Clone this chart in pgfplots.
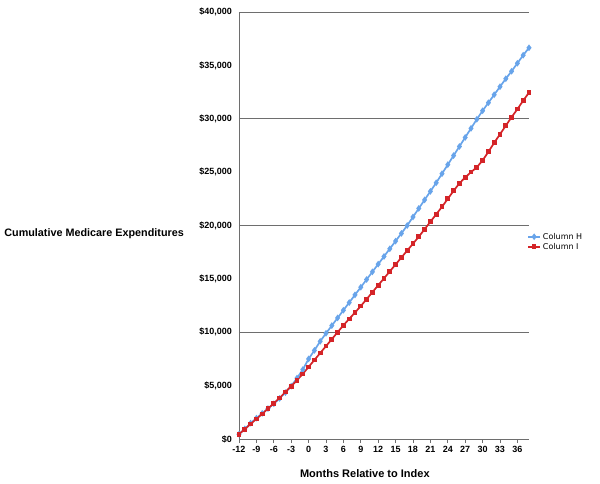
\documentclass[border=0pt]{standalone}
\usepackage{pgfplots}
\pgfplotsset{compat=1.18}
\usepackage{fontspec}
\setmainfont{Liberation Sans}
\newfontfamily\legfont{DejaVu Sans}

\definecolor{colH}{RGB}{104,164,234}
\definecolor{colI}{RGB}{212,36,40}
\definecolor{gridc}{RGB}{110,110,110}

\begin{document}
\begin{tikzpicture}
\path[use as bounding box] (-239pt,-44pt) rectangle (361pt,439pt);
\begin{axis}[
    at={(0pt,0pt)}, anchor=south west,
    scale only axis,
    width=290pt, height=427pt,
    xmin=-12, xmax=38,
    ymin=0, ymax=40000,
    axis x line=bottom, axis y line=left,
    axis line style={-, gridc, line width=0.9pt},
    xtick={-12,-9,...,36},
    xtick style={gridc, line width=0.8pt},
    tick align=outside,
    major tick length=4pt,
    ytick={0,5000,...,40000},
    yticklabels={\$0,{\$5,000},{\$10,000},{\$15,000},{\$20,000},{\$25,000},{\$30,000},{\$35,000},{\$40,000}},
    ytick style={draw=none},
    yticklabel style={inner sep=0pt, xshift=-3pt},
    extra y ticks={10000,20000,30000,40000},
    extra y tick labels={},
    extra y tick style={grid=major, major grid style={gridc, line width=0.9pt}, tick style={draw=gridc, line width=0.9pt}},
    /pgf/number format/assume math mode=true,
    tick label style={font=\bfseries\fontsize{9}{10}\selectfont},
    xlabel={Months Relative to Index},
    xlabel style={font=\bfseries\fontsize{11}{13}\selectfont, at={(axis description cs:0.434,-0.080)}, anchor=center},
    ylabel={Cumulative Medicare Expenditures},
    ylabel style={font=\bfseries\fontsize{10.8}{13}\selectfont, rotate=-90, at={(axis description cs:-0.178,0.48)}, anchor=east},
    legend style={draw=none, fill=none, font=\legfont\fontsize{8}{9}\selectfont,
        at={(axis description cs:0.99,0.49)}, anchor=north west, row sep=-1.5pt, inner sep=1pt},
    legend image code/.code={\draw[#1, mark repeat=2, mark phase=2] plot coordinates {(0pt,0pt) (6pt,0pt) (12pt,0pt)};},
    legend cell align=left,
    clip=false,
]
\addplot[colH, line width=1.7pt, mark=diamond*, mark size=2pt] coordinates {
(-12,450) (-11,950) (-10,1480) (-9,1950) (-8,2400) (-7,2850) (-6,3300) (-5,3800)
(-4,4350) (-3,4950) (-2,5700) (-1,6500) (0,7500) (1,8300) (2,9150) (3,9900)
(4,10620) (5,11340) (6,12060) (7,12780) (8,13500) (9,14220) (10,14940) (11,15660)
(12,16380) (13,17100) (14,17820) (15,18540) (16,19260) (17,20000) (18,20800) (19,21600)
(20,22400) (21,23200) (22,24000) (23,24850) (24,25700) (25,26550) (26,27400) (27,28250)
(28,29100) (29,29950) (30,30750) (31,31500) (32,32250) (33,33000) (34,33750) (35,34450)
(36,35200) (37,35950) (38,36650)
};
\addlegendentry{Column H}
\addplot[colI, line width=1.7pt, mark=square*, mark size=1.5pt] coordinates {
(-12,450) (-11,920) (-10,1400) (-9,1880) (-8,2350) (-7,2850) (-6,3350) (-5,3850)
(-4,4400) (-3,4950) (-2,5500) (-1,6100) (0,6750) (1,7400) (2,8050) (3,8700)
(4,9350) (5,10000) (6,10650) (7,11250) (8,11850) (9,12450) (10,13100) (11,13750)
(12,14400) (13,15050) (14,15700) (15,16350) (16,17000) (17,17650) (18,18300) (19,18950)
(20,19650) (21,20350) (22,21050) (23,21750) (24,22500) (25,23250) (26,23950) (27,24500)
(28,25000) (29,25450) (30,26100) (31,26900) (32,27750) (33,28550) (34,29350) (35,30150)
(36,30900) (37,31700) (38,32450)
};
\addlegendentry{Column I}
\end{axis}
\end{tikzpicture}
\end{document}
